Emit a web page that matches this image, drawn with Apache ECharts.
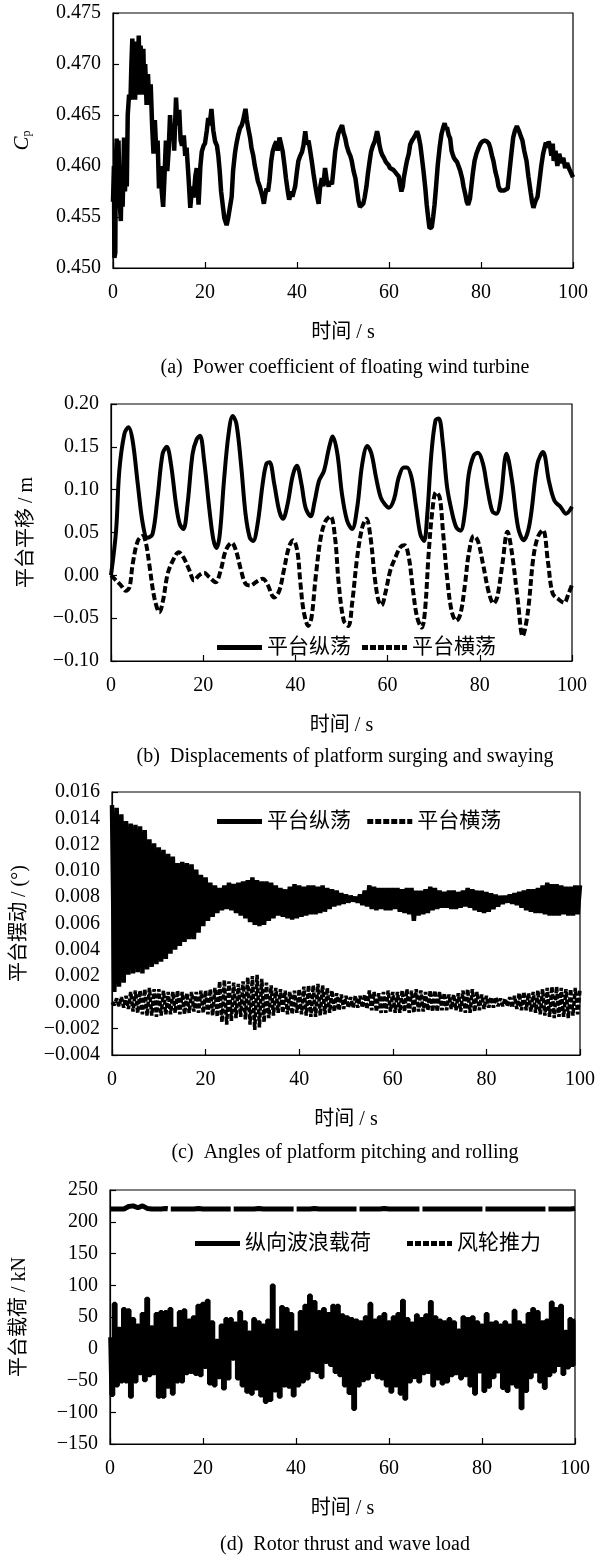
<!DOCTYPE html>
<html><head><meta charset="utf-8">
<script src="https://cdn.jsdelivr.net/npm/echarts@6/dist/echarts.min.js"></script>
<style>html,body{margin:0;padding:0;background:#fff}#c{width:608px;height:1556px}</style>
</head><body><div id="c"></div>
<script>
// ---------- Data ----------
const xTicks = [0, 20, 40, 60, 80, 100];

// (a) power coefficient
const cpTime = [0,0.2,0.3,0.5,0.6,0.8,1.0,1.2,1.4,1.7,1.9,2.1,2.4,2.6,2.8,3.0,3.2,3.5,3.8,4.0,4.2,4.4,4.6,4.8,5.0,5.3,5.6,5.8,6.0,6.3,6.6,6.8,7.0,7.3,7.6,7.9,8.2,8.5,8.8,9.1,9.4,9.7,10.0,10.3,10.6,10.9,11.2,11.5,11.8,12.1,12.4,12.7,13.0,13.3,13.7,14.0,14.4,14.7,15.0,15.4,15.7,16.0,16.4,16.8,17.2,17.5,17.9,18.2,18.6,19.0,19.3,19.7,20.0,20.4,20.7,21.0,21.4,21.8,22.2,22.6,22.9,23.2,23.5,23.9,24.2,24.7,25.0,25.4,25.8,26.1,26.5,26.8,27.2,27.6,28.0,28.3,28.8,29.1,29.4,29.8,30.1,30.5,30.8,31.2,31.5,31.9,32.2,32.5,32.8,33.1,33.4,33.7,34.0,34.4,34.7,35.1,35.5,35.8,36.2,36.6,36.9,37.3,37.6,38.0,38.3,38.7,39.0,39.3,39.6,40.0,40.3,40.7,41.1,41.4,41.8,42.1,42.5,42.9,43.2,43.6,44.0,44.3,44.7,45.0,45.4,45.7,46.1,46.5,46.9,47.2,47.6,48.0,48.3,48.7,49.0,49.4,49.8,50.1,50.5,50.8,51.2,51.6,51.9,52.3,52.7,53.0,53.4,53.7,54.0,54.4,54.7,55.1,55.4,55.8,56.1,56.5,56.9,57.2,57.4,57.7,57.9,58.2,58.5,58.9,59.2,59.5,59.9,60.2,60.6,61.0,61.4,61.7,62.1,62.4,62.7,63.0,63.2,63.6,63.9,64.3,64.6,65.0,65.3,65.7,66.1,66.4,66.8,67.1,67.5,67.9,68.2,68.5,68.8,69.1,69.3,69.6,69.9,70.2,70.6,71.0,71.4,71.8,72.1,72.4,72.6,73.0,73.3,73.6,73.8,74.1,74.4,74.8,75.1,75.5,75.9,76.2,76.6,76.9,77.2,77.6,77.9,78.2,78.6,79.0,79.5,79.9,80.3,80.8,81.3,81.7,82.0,82.4,82.7,83.1,83.5,83.8,84.2,84.6,85.0,85.4,85.8,86.2,86.6,87.0,87.4,87.8,88.2,88.6,89.0,89.4,89.9,90.3,90.8,91.1,91.4,91.8,92.3,92.7,93.1,93.5,94.1,94.4,94.7,95.0,95.3,95.6,95.8,96.2,96.6,97.0,97.5,97.9,98.3,98.7,99.2,99.6,100.0];
const cpValue = [0.4565,0.4600,0.4510,0.4515,0.4600,0.4627,0.4560,0.4625,0.4570,0.4546,0.4600,0.4560,0.4628,0.4575,0.4600,0.4580,0.4650,0.4670,0.4665,0.4700,0.4725,0.4680,0.4722,0.4665,0.4700,0.4680,0.4728,0.4670,0.4718,0.4690,0.4715,0.4670,0.4700,0.4660,0.4690,0.4660,0.4680,0.4640,0.4612,0.4645,0.4615,0.4625,0.4578,0.4600,0.4575,0.4560,0.4590,0.4625,0.4595,0.4615,0.4650,0.4625,0.4640,0.4615,0.4667,0.4640,0.4655,0.4625,0.4620,0.4630,0.4610,0.4618,0.4590,0.4559,0.4580,0.4569,0.4590,0.4598,0.4562,0.4600,0.4614,0.4620,0.4622,0.4635,0.4647,0.4640,0.4656,0.4635,0.4624,0.4620,0.4610,0.4595,0.4575,0.4560,0.4549,0.4542,0.4548,0.4549,0.4570,0.4595,0.4612,0.4621,0.4630,0.4637,0.4640,0.4645,0.4656,0.4645,0.4637,0.4628,0.4618,0.4610,0.4601,0.4592,0.4585,0.4580,0.4575,0.4570,0.4563,0.4572,0.4578,0.4575,0.4585,0.4605,0.4614,0.4620,0.4624,0.4615,0.4628,0.4620,0.4614,0.4600,0.4588,0.4575,0.4567,0.4575,0.4570,0.4575,0.4580,0.4595,0.4605,0.4610,0.4614,0.4620,0.4634,0.4621,0.4625,0.4614,0.4605,0.4592,0.4580,0.4572,0.4563,0.4578,0.4588,0.4580,0.4598,0.4585,0.4580,0.4585,0.4582,0.4600,0.4614,0.4625,0.4632,0.4636,0.4640,0.4633,0.4627,0.4620,0.4614,0.4610,0.4605,0.4595,0.4588,0.4578,0.4565,0.4560,0.4560,0.4563,0.4569,0.4580,0.4592,0.4605,0.4614,0.4620,0.4624,0.4630,0.4634,0.4628,0.4621,0.4615,0.4611,0.4608,0.4605,0.4603,0.4601,0.4598,0.4598,0.4596,0.4595,0.4592,0.4590,0.4582,0.4575,0.4580,0.4588,0.4598,0.4605,0.4612,0.4621,0.4625,0.4627,0.4630,0.4634,0.4630,0.4621,0.4610,0.4595,0.4578,0.4562,0.4550,0.4539,0.4538,0.4540,0.4550,0.4562,0.4578,0.4601,0.4618,0.4631,0.4638,0.4642,0.4636,0.4638,0.4630,0.4627,0.4615,0.4612,0.4608,0.4606,0.4604,0.4603,0.4595,0.4588,0.4580,0.4572,0.4565,0.4562,0.4568,0.4580,0.4592,0.4605,0.4612,0.4618,0.4622,0.4624,0.4625,0.4624,0.4622,0.4618,0.4610,0.4605,0.4595,0.4588,0.4580,0.4576,0.4575,0.4576,0.4575,0.4578,0.4595,0.4612,0.4628,0.4635,0.4639,0.4635,0.4630,0.4625,0.4615,0.4605,0.4590,0.4574,0.4565,0.4559,0.4565,0.4570,0.4585,0.4600,0.4612,0.4623,0.4618,0.4624,0.4620,0.4610,0.4622,0.4605,0.4615,0.4600,0.4612,0.4603,0.4608,0.4598,0.4603,0.4597,0.4593,0.4589];

// (b) platform surge / sway displacement (m)
const surgeTime = [0,1.1,1.8,2.9,3.8,4.7,5.8,6.9,7.9,9.0,10.1,11.2,12.1,13.0,14.1,14.9,15.7,16.6,17.7,18.6,19.3,20.2,21.3,22.2,22.9,23.6,24.5,25.5,26.4,27.2,28.2,29.2,30.1,30.8,31.8,32.9,33.7,34.4,35.4,36.5,37.3,38.3,39.4,40.3,41.3,42.2,43.3,44.2,45.1,46.2,47.3,48.1,49.1,50.1,51.2,52.3,53.4,54.5,55.6,56.5,57.5,58.5,59.4,60.3,61.4,62.4,63.5,64.2,65.2,66.2,67.1,67.9,68.6,69.5,70.4,71.1,72.0,72.9,73.9,74.9,75.8,76.8,77.6,78.7,79.6,80.7,81.6,82.7,83.6,84.5,85.8,87.0,88.3,89.5,90.8,92.5,93.7,95.0,96.2,97.5,98.7,100];
const surgeValue = [0.000,0.052,0.122,0.165,0.173,0.157,0.107,0.060,0.044,0.048,0.091,0.142,0.150,0.130,0.083,0.060,0.054,0.083,0.142,0.159,0.163,0.134,0.079,0.042,0.032,0.048,0.110,0.165,0.186,0.177,0.130,0.071,0.044,0.040,0.060,0.107,0.130,0.132,0.107,0.075,0.066,0.083,0.116,0.128,0.107,0.079,0.069,0.087,0.110,0.122,0.149,0.162,0.142,0.095,0.064,0.054,0.079,0.130,0.151,0.142,0.114,0.091,0.083,0.079,0.089,0.114,0.126,0.126,0.114,0.079,0.048,0.040,0.071,0.142,0.181,0.183,0.153,0.103,0.075,0.056,0.052,0.075,0.118,0.140,0.143,0.130,0.103,0.075,0.072,0.088,0.142,0.110,0.056,0.041,0.060,0.130,0.144,0.110,0.087,0.080,0.072,0.080];
const swayTime = [0,1.1,2.2,3.2,4.0,4.7,5.8,6.9,7.6,8.3,9.4,10.5,11.3,12.3,13.4,14.7,15.7,17.0,18.0,19.1,20.2,21.3,22.7,23.8,24.9,26.2,27.1,28.2,29.2,30.3,31.4,32.9,33.9,35.4,36.5,37.5,38.6,39.5,40.4,41.1,41.8,42.8,43.5,44.4,45.5,46.5,47.6,48.6,49.4,50.5,51.5,52.3,53.4,54.5,55.4,56.3,57.2,58.0,58.7,59.5,60.6,61.7,62.8,63.7,64.6,65.5,66.4,67.4,68.1,68.9,69.7,70.5,71.3,72.0,72.9,73.9,74.9,75.8,76.8,77.6,78.7,79.6,80.7,82.0,83.0,83.8,84.9,86.0,87.0,88.3,89.3,90.4,91.6,92.6,93.7,94.8,95.8,97.1,98.3,99.2,100];
const swayValue = [0.000,-0.006,-0.012,-0.018,-0.014,0.013,0.040,0.046,0.037,0.013,-0.026,-0.043,-0.029,0.002,0.017,0.027,0.021,0.006,-0.006,0.000,0.003,-0.002,-0.008,0.006,0.029,0.038,0.029,0.006,-0.010,-0.012,-0.008,-0.004,-0.010,-0.026,-0.018,0.006,0.033,0.041,0.029,-0.010,-0.042,-0.059,-0.049,-0.002,0.044,0.063,0.069,0.044,-0.010,-0.053,-0.059,-0.033,0.021,0.056,0.066,0.044,-0.002,-0.029,-0.035,-0.021,0.006,0.021,0.033,0.035,0.021,-0.017,-0.049,-0.061,-0.042,0.025,0.075,0.097,0.091,0.052,-0.002,-0.042,-0.053,-0.045,-0.010,0.025,0.046,0.040,0.013,-0.021,-0.033,-0.025,0.013,0.051,0.025,-0.032,-0.071,-0.044,0.020,0.045,0.053,0.015,-0.021,-0.028,-0.032,-0.022,-0.011];

// (c) pitch / roll angles: peaks at whole seconds, troughs half a second later
const pitchPeaks = [0.0150,0.0148,0.0143,0.0138,0.0136,0.0135,0.0134,0.0131,0.0124,0.0121,0.0118,0.0116,0.0113,0.0111,0.0106,0.0107,0.0106,0.0105,0.0101,0.0097,0.0095,0.0091,0.0089,0.0087,0.0089,0.0091,0.0090,0.0091,0.0092,0.0093,0.0095,0.0093,0.0092,0.0092,0.0091,0.0089,0.0087,0.0086,0.0088,0.0090,0.0089,0.0088,0.0089,0.0089,0.0088,0.0089,0.0087,0.0086,0.0085,0.0083,0.0082,0.0081,0.0080,0.0082,0.0085,0.0089,0.0088,0.0087,0.0087,0.0087,0.0087,0.0087,0.0086,0.0087,0.0087,0.0085,0.0085,0.0086,0.0088,0.0087,0.0085,0.0084,0.0085,0.0085,0.0084,0.0085,0.0087,0.0086,0.0085,0.0085,0.0084,0.0083,0.0082,0.0081,0.0081,0.0082,0.0083,0.0084,0.0085,0.0086,0.0086,0.0087,0.0089,0.0091,0.0090,0.0090,0.0089,0.0088,0.0088,0.0089,0.0089];
const pitchTroughs = [0.0008,0.0012,0.0015,0.0021,0.0022,0.0023,0.0022,0.0025,0.0027,0.0029,0.0031,0.0033,0.0037,0.0040,0.0043,0.0046,0.0048,0.0048,0.0053,0.0058,0.0062,0.0065,0.0068,0.0070,0.0071,0.0070,0.0068,0.0066,0.0064,0.0061,0.0059,0.0058,0.0059,0.0062,0.0064,0.0066,0.0065,0.0064,0.0063,0.0064,0.0065,0.0066,0.0067,0.0067,0.0068,0.0069,0.0071,0.0073,0.0074,0.0075,0.0076,0.0077,0.0076,0.0074,0.0073,0.0071,0.0070,0.0071,0.0070,0.0070,0.0071,0.0069,0.0068,0.0067,0.0062,0.0066,0.0067,0.0068,0.0070,0.0071,0.0072,0.0072,0.0071,0.0071,0.0072,0.0073,0.0072,0.0070,0.0069,0.0068,0.0069,0.0071,0.0073,0.0075,0.0076,0.0075,0.0074,0.0072,0.0070,0.0069,0.0068,0.0068,0.0067,0.0066,0.0066,0.0066,0.0067,0.0066,0.0066,0.0067];
const rollPeaks = [0.0000,0.0003,0.0004,0.0005,0.0008,0.0009,0.0009,0.0010,0.0011,0.0010,0.0010,0.0009,0.0008,0.0008,0.0009,0.0008,0.0007,0.0008,0.0008,0.0009,0.0009,0.0010,0.0011,0.0016,0.0017,0.0016,0.0015,0.0014,0.0016,0.0019,0.0020,0.0021,0.0018,0.0015,0.0013,0.0011,0.0010,0.0009,0.0008,0.0009,0.0010,0.0012,0.0013,0.0013,0.0014,0.0013,0.0011,0.0009,0.0007,0.0006,0.0005,0.0004,0.0005,0.0005,0.0006,0.0009,0.0008,0.0007,0.0008,0.0009,0.0008,0.0008,0.0009,0.0010,0.0009,0.0010,0.0009,0.0008,0.0009,0.0009,0.0008,0.0007,0.0006,0.0006,0.0007,0.0009,0.0010,0.0010,0.0008,0.0006,0.0005,0.0004,0.0004,0.0003,0.0003,0.0004,0.0005,0.0007,0.0008,0.0007,0.0008,0.0009,0.0010,0.0011,0.0012,0.0012,0.0011,0.0010,0.0010,0.0011,0.0010];
const rollTroughs = [-0.0002,-0.0003,-0.0004,-0.0005,-0.0007,-0.0008,-0.0009,-0.0010,-0.0010,-0.0011,-0.0010,-0.0009,-0.0009,-0.0008,-0.0009,-0.0009,-0.0008,-0.0007,-0.0008,-0.0008,-0.0009,-0.0010,-0.0011,-0.0015,-0.0017,-0.0014,-0.0012,-0.0011,-0.0013,-0.0017,-0.0021,-0.0019,-0.0015,-0.0012,-0.0010,-0.0008,-0.0008,-0.0009,-0.0009,-0.0008,-0.0009,-0.0010,-0.0011,-0.0011,-0.0010,-0.0009,-0.0008,-0.0007,-0.0006,-0.0005,-0.0004,-0.0004,-0.0004,-0.0004,-0.0005,-0.0006,-0.0007,-0.0008,-0.0008,-0.0007,-0.0008,-0.0008,-0.0007,-0.0008,-0.0008,-0.0007,-0.0007,-0.0006,-0.0007,-0.0007,-0.0006,-0.0006,-0.0005,-0.0006,-0.0007,-0.0008,-0.0008,-0.0007,-0.0006,-0.0005,-0.0004,-0.0004,-0.0003,-0.0003,-0.0003,-0.0004,-0.0005,-0.0006,-0.0006,-0.0007,-0.0008,-0.0009,-0.0010,-0.0011,-0.0012,-0.0011,-0.0011,-0.0012,-0.0010,-0.0009];

// (d) loads (kN): wave load peaks at whole seconds, troughs half a second later
const wavePeaks = [18,71,32,63,61,47,37,55,79,34,55,58,58,63,32,58,61,45,50,68,71,76,42,13,37,47,47,40,58,42,26,47,42,37,45,100,29,66,63,55,26,58,68,84,74,58,63,55,68,68,53,50,47,45,42,50,71,45,50,55,42,50,55,76,47,40,53,47,53,74,50,45,42,47,42,29,50,47,50,42,37,55,40,42,37,42,37,60,42,37,55,63,58,42,45,73,63,68,27,47,45];
const waveTroughs = [-73,-58,-52,-52,-76,-52,-39,-50,-42,-39,-76,-76,-60,-71,-52,-52,-39,-37,-40,-42,-29,-55,-58,-45,-63,-47,-16,-47,-58,-68,-71,-63,-74,-84,-81,-66,-76,-58,-60,-74,-58,-52,-47,-34,-37,-45,-21,-26,-37,-42,-58,-70,-95,-58,-50,-47,-37,-45,-47,-58,-68,-58,-71,-79,-52,-45,-52,-39,-37,-58,-47,-55,-52,-42,-39,-47,-42,-58,-71,-36,-67,-60,-45,-36,-62,-67,-55,-60,-94,-67,-45,-36,-52,-62,-42,-36,-26,-40,-30,-26];
const thrust = [220,220,220,220,224,225,222,225,221,220,220,220,221,220,220,220,220,220,220,221,220,220,220,220,220,220,220,220,220,220,220,220,221,220,220,220,220,220,220,220,220,220,220,220,221,220,220,220,220,220,220,220,220,220,220,220,220,220,220,221,220,220,220,220,220,220,220,220,220,220,220,220,220,220,220,220,220,220,220,220,220,220,220,220,220,220,220,220,220,220,220,220,220,220,220,220,220,220,220,220,221];

const names = {
  surge: '平台纵荡', sway: '平台横荡', wave: '纵向波浪载荷', thrust: '风轮推力'
};
const captions = [
  '(a)  Power coefficient of floating wind turbine',
  '(b)  Displacements of platform surging and swaying',
  '(c)  Angles of platform pitching and rolling',
  '(d)  Rotor thrust and wave load'
];

// ---------- Build ----------
const zip = (ts, vs) => ts.map((t, i) => [t, vs[i]]);
function alternate(peaks, troughs) {
  const out = [];
  for (let i = 0; i < peaks.length; i++) {
    out.push([i, peaks[i]]);
    if (i < troughs.length) out.push([i + 0.5, troughs[i]]);
  }
  return out;
}
const thrustData = thrust.map((v, i) => [i, v]);

const FONT = "'Liberation Serif','Times New Roman','Noto Sans CJK SC',serif";
const minus = s => s.replace('-', '\u2212');

const grids = [
  {left: 113, top: 13, width: 460, height: 255},
  {left: 111, top: 404, width: 461, height: 257},
  {left: 112, top: 792, width: 468, height: 263},
  {left: 110, top: 1190, width: 465, height: 254}
].map(g => Object.assign(g, {show: true, borderColor: '#000', borderWidth: 1.2, backgroundColor: 'transparent'}));

function xAxis(i) {
  return {
    gridIndex: i, type: 'value', min: 0, max: 100, interval: 20,
    axisLine: {onZero: false, lineStyle: {color: '#000', width: 1.2}},
    axisTick: {inside: true, length: 6, lineStyle: {color: '#000', width: 1.2}},
    splitLine: {show: false},
    axisLabel: {color: '#000', fontSize: 20, fontFamily: FONT, margin: 15},
    name: '时间 / s', nameLocation: 'middle', nameGap: 55,
    nameTextStyle: {color: '#000', fontSize: 20, fontFamily: FONT}
  };
}
function yAxis(i, min, max, interval, digits, name, gap, extra) {
  return Object.assign({
    gridIndex: i, type: 'value', min: min, max: max, interval: interval,
    axisLine: {show: true, onZero: false, lineStyle: {color: '#000', width: 1.2}},
    axisTick: {show: true, inside: true, length: 6, lineStyle: {color: '#000', width: 1.2}},
    splitLine: {show: false},
    axisLabel: {color: '#000', fontSize: 20, fontFamily: FONT, margin: 12,
      formatter: v => minus(v.toFixed(digits))},
    name: name, nameLocation: 'middle', nameGap: gap,
    nameTextStyle: {color: '#000', fontSize: 20, fontFamily: FONT}
  }, extra || {});
}

const legendText = {color: '#000', fontSize: 21, fontFamily: FONT};
const SOLID_ICON = 'path://M0,0h45v5h-45z';
const DASH_ICON = 'path://M0,0h6v5h-6zM8,0h6v5h-6zM16,0h6v5h-6zM24,0h6v5h-6zM32,0h6v5h-6zM40,0h5v5h-5z';
const legendBase = {itemWidth: 45, itemHeight: 5, textStyle: legendText, itemStyle: {color: '#000'}};

const option = {
  animation: false,
  backgroundColor: '#fff',
  grid: grids,
  xAxis: [xAxis(0), xAxis(1), xAxis(2), xAxis(3)],
  yAxis: [
    yAxis(0, 0.450, 0.475, 0.005, 3, '{c|C}{p|p}', 80, {
      nameTextStyle: {color: '#000', fontFamily: FONT, rich: {
        c: {fontSize: 21, fontStyle: 'italic', fontFamily: FONT, color: '#000'},
        p: {fontSize: 12, fontFamily: FONT, color: '#000', padding: [10, 0, 0, 0]}
      }}
    }),
    yAxis(1, -0.10, 0.20, 0.05, 2, '平台平移 / m', 74),
    yAxis(2, -0.004, 0.016, 0.002, 3, '平台摆动 / (°)', 82),
    yAxis(3, -150, 250, 50, 0, '平台载荷 / kN', 80)
  ],
  legend: [
    Object.assign({left: 212, top: 632, itemGap: 11,
      data: [{name: names.surge, icon: SOLID_ICON}, {name: names.sway, icon: DASH_ICON}]}, legendBase),
    Object.assign({left: 212, top: 806, itemGap: 11,
      data: [{name: names.surge + ' ', icon: SOLID_ICON}, {name: names.sway + ' ', icon: DASH_ICON}]}, legendBase),
    Object.assign({left: 190, top: 1228,
      data: [{name: names.wave, icon: SOLID_ICON}]}, legendBase),
    Object.assign({left: 402, top: 1228,
      data: [{name: names.thrust, icon: DASH_ICON}]}, legendBase)
  ],
  series: [
    {type: 'line', xAxisIndex: 0, yAxisIndex: 0, data: zip(cpTime, cpValue), symbol: 'none',
     lineStyle: {color: '#000', width: 4.5}, itemStyle: {color: '#000'}},
    {name: names.surge, type: 'line', xAxisIndex: 1, yAxisIndex: 1, data: zip(surgeTime, surgeValue), symbol: 'none', smooth: 0.35,
     lineStyle: {color: '#000', width: 4}, itemStyle: {color: '#000'}},
    {name: names.sway, type: 'line', xAxisIndex: 1, yAxisIndex: 1, data: zip(swayTime, swayValue), symbol: 'none', smooth: 0.35,
     lineStyle: {color: '#000', width: 4, type: [7, 3]}, itemStyle: {color: '#000'}},
    {name: names.surge + ' ', type: 'line', xAxisIndex: 2, yAxisIndex: 2, data: alternate(pitchPeaks, pitchTroughs), symbol: 'none',
     lineStyle: {color: '#000', width: 4.5}, itemStyle: {color: '#000'}},
    {name: names.sway + ' ', type: 'line', xAxisIndex: 2, yAxisIndex: 2, data: alternate(rollPeaks, rollTroughs), symbol: 'none',
     lineStyle: {color: '#000', width: 3.6, type: [5, 2]}, itemStyle: {color: '#000'}},
    {name: names.wave, type: 'line', xAxisIndex: 3, yAxisIndex: 3, data: alternate(wavePeaks, waveTroughs), symbol: 'none', step: 'middle',
     lineStyle: {color: '#000', width: 3.6}, itemStyle: {color: '#000'}},
    {name: names.thrust, type: 'line', xAxisIndex: 3, yAxisIndex: 3, data: thrustData, symbol: 'none',
     lineStyle: {color: '#000', width: 5, type: [60, 3]}, itemStyle: {color: '#000'}}
  ],
  graphic: captions.map((t, i) => ({
    type: 'text', x: 345, y: [368, 757, 1153, 1545][i],
    style: {text: t, font: "20px 'Liberation Serif','Times New Roman',serif", fill: '#000',
            textAlign: 'center', textVerticalAlign: 'middle'}
  }))
};

const chart = echarts.init(document.getElementById('c'), null, {renderer: 'canvas'});
chart.setOption(option);
</script>
</body></html>
